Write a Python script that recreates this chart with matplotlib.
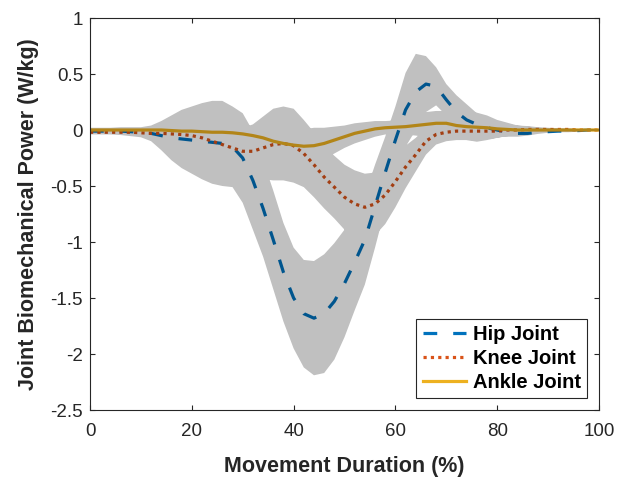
import numpy as np
import matplotlib
matplotlib.use("Agg")
import matplotlib.pyplot as plt
from matplotlib.path import Path
from matplotlib.patches import PathPatch

plt.rcParams['font.family'] = ['Liberation Sans', 'DejaVu Sans']

# Movement duration (%)
duration = np.arange(0, 101, 2)

# Mean joint power (W/kg)
hip_mean = [-0.01, -0.01, -0.01, -0.01, -0.015, -0.02, -0.03, -0.05, -0.07, -0.08,
            -0.09, -0.10, -0.11, -0.12, -0.15, -0.25, -0.45, -0.70, -0.98, -1.27,
            -1.50, -1.64, -1.68, -1.64, -1.53, -1.37, -1.18, -0.98, -0.68, -0.38,
            -0.09, 0.18, 0.34, 0.41, 0.39, 0.27, 0.16, 0.09, 0.05, 0.02,
            0.0, -0.02, -0.03, -0.03, -0.02, -0.015, -0.01, -0.01, -0.005, 0.0,
            0.0]
knee_mean = [-0.02, -0.02, -0.02, -0.02, -0.02, -0.025, -0.03, -0.03, -0.035, -0.04,
             -0.05, -0.07, -0.10, -0.13, -0.16, -0.19, -0.19, -0.16, -0.13, -0.12,
             -0.14, -0.21, -0.31, -0.42, -0.51, -0.60, -0.66, -0.69, -0.66, -0.58,
             -0.46, -0.33, -0.22, -0.10, -0.04, -0.02, -0.01, -0.01, -0.01, -0.01,
             -0.01, 0.0, 0.0, 0.005, 0.005, 0.005, 0.005, 0.005, 0.0, 0.0,
             0.0]
ankle_mean = [0.0, 0.0, 0.0, 0.0, 0.0, 0.0, 0.0, 0.0, -0.005, -0.01,
              -0.01, -0.015, -0.02, -0.02, -0.025, -0.035, -0.05, -0.07, -0.10, -0.12,
              -0.135, -0.145, -0.14, -0.12, -0.09, -0.06, -0.03, -0.01, 0.01, 0.02,
              0.025, 0.03, 0.04, 0.05, 0.06, 0.06, 0.04, 0.03, 0.025, 0.02,
              0.01, 0.005, 0.0, 0.0, 0.0, 0.0, 0.0, 0.0, 0.0, 0.0,
              0.0]

# Standard deviation (W/kg)
hip_sd = [0.03, 0.03, 0.03, 0.035, 0.04, 0.045, 0.07, 0.13, 0.20, 0.26,
          0.30, 0.34, 0.37, 0.38, 0.36, 0.40, 0.44, 0.43, 0.44, 0.44,
          0.45, 0.48, 0.51, 0.53, 0.52, 0.48, 0.43, 0.40, 0.37, 0.32,
          0.30, 0.33, 0.34, 0.25, 0.17, 0.14, 0.15, 0.14, 0.10, 0.07,
          0.05, 0.04, 0.03, 0.02, 0.015, 0.01, 0.01, 0.01, 0.01, 0.01,
          0.005]
knee_sd = [0.01, 0.01, 0.015, 0.015, 0.02, 0.02, 0.03, 0.05, 0.07, 0.09,
           0.11, 0.13, 0.15, 0.17, 0.19, 0.21, 0.24, 0.28, 0.32, 0.33,
           0.33, 0.30, 0.29, 0.28, 0.28, 0.29, 0.30, 0.30, 0.28, 0.26,
           0.23, 0.19, 0.15, 0.12, 0.09, 0.08, 0.08, 0.08, 0.08, 0.07,
           0.06, 0.05, 0.04, 0.03, 0.02, 0.015, 0.01, 0.01, 0.01, 0.01,
           0.01]
ankle_sd = [0.01, 0.01, 0.01, 0.01, 0.01, 0.01, 0.015, 0.02, 0.03, 0.035,
            0.04, 0.045, 0.05, 0.055, 0.06, 0.07, 0.08, 0.09, 0.11, 0.13,
            0.14, 0.15, 0.16, 0.14, 0.12, 0.10, 0.09, 0.08, 0.07, 0.06,
            0.06, 0.07, 0.09, 0.11, 0.11, 0.11, 0.11, 0.12, 0.13, 0.11,
            0.08, 0.06, 0.04, 0.03, 0.02, 0.015, 0.01, 0.01, 0.01, 0.01,
            0.01]

labels = ['Hip Joint', 'Knee Joint', 'Ankle Joint']
colors = ['#0072BD', '#D95319', '#EDB120']


def band_path(x, means, sds):
    # Один составной путь: перекрытия заливаются один раз
    verts = []
    codes = []
    for m, s in zip(means, sds):
        m = np.array(m)
        s = np.array(s)
        upper = np.column_stack([x, m + s])
        lower = np.column_stack([x[::-1], (m - s)[::-1]])
        poly = np.vstack([upper, lower, upper[:1]])
        verts.append(poly)
        codes += [Path.MOVETO] + [Path.LINETO] * (len(poly) - 2) + [Path.CLOSEPOLY]
    return Path(np.vstack(verts), codes)


fig = plt.figure(figsize=(6.18, 4.8), dpi=100)
ax = fig.add_axes([90 / 618, 70 / 480, 509 / 618, 392 / 480])

ax.plot(duration, hip_mean, color=colors[0], lw=2.3, linestyle=(0, (4.3, 5.0)),
        label=labels[0], zorder=2)
ax.plot(duration, knee_mean, color=colors[1], lw=2.3, linestyle=(0, (1, 1.3)),
        label=labels[1], zorder=2)
ax.plot(duration, ankle_mean, color=colors[2], lw=2.3, linestyle='-',
        label=labels[2], zorder=2)

# Полупрозрачная серая область (mean ± SD) поверх линий
path = band_path(duration, [hip_mean, knee_mean, ankle_mean],
                 [hip_sd, knee_sd, ankle_sd])
ax.add_patch(PathPatch(path, facecolor='black', alpha=0.247, edgecolor='none',
                       zorder=3))

ax.set_xlim(0, 100)
ax.set_ylim(-2.5, 1)
ax.set_xticks([0, 20, 40, 60, 80, 100])
ax.set_yticks([-2.5, -2, -1.5, -1, -0.5, 0, 0.5, 1])
ax.set_yticklabels(['-2.5', '-2', '-1.5', '-1', '-0.5', '0', '0.5', '1'])

ax.tick_params(direction='in', top=True, right=True, length=3.6, width=0.8,
               labelsize=13.5, colors='#262626')
ax.tick_params(axis='x', pad=9)
ax.tick_params(axis='y', pad=5)
for sp in ax.spines.values():
    sp.set_color('#262626')
    sp.set_linewidth(0.8)

ax.set_xlabel('Movement Duration (%)', fontsize=15.5, fontweight='bold',
              color='#262626', labelpad=12)
ax.set_ylabel('Joint Biomechanical Power (W/kg)', fontsize=15.5,
              fontweight='bold', color='#262626', labelpad=8)

leg = ax.legend(loc='lower right', fontsize=14.5, prop={'weight': 'bold', 'size': 14.5},
                fancybox=False, framealpha=1, edgecolor='#262626',
                handlelength=2.15, handletextpad=0.35, borderpad=0.3,
                labelspacing=0.25, borderaxespad=0.6)
leg.get_frame().set_linewidth(0.8)
leg.set_zorder(5)

fig.savefig('out.png', dpi=100)
